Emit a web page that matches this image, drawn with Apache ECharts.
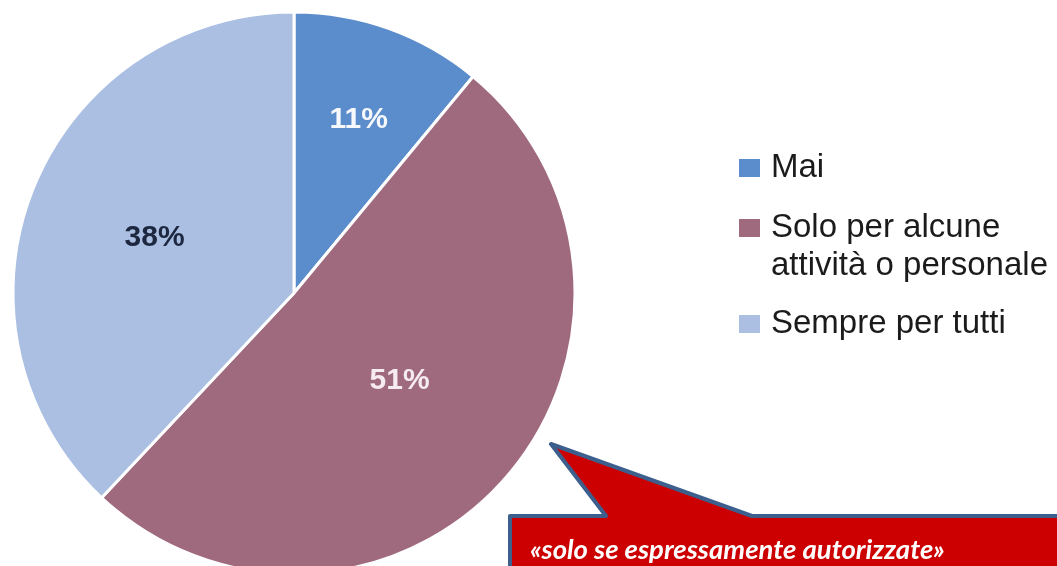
<!DOCTYPE html>
<html>
<head>
<meta charset="utf-8">
<script src="https://cdn.jsdelivr.net/npm/echarts@6/dist/echarts.min.js"></script>
<style>
  html, body { margin: 0; padding: 0; background: #ffffff; }
  #chart { width: 1057px; height: 566px; }
</style>
</head>
<body>
<div id="chart"></div>
<script>
// Answer categories and their shares (%)
const categories = ['Mai', 'Solo per alcune attività o personale', 'Sempre per tutti'];
// Legend text; the leading blank line keeps the swatch level with the first line
const legendLines = ['Mai', ' \nSolo per alcune\nattività o personale', 'Sempre per tutti'];
const shares = [11, 51, 38];
const sliceColors = ['#5b8ccb', '#a06a7e', '#aabfe2'];
const labelColors = ['#f6f8fc', '#f5ebf0', '#1e2740'];
const labelOffsets = [[16, -38], [-2, -7], [-6, -2]];

const calloutText = '«solo se espressamente autorizzate»';

const chart = echarts.init(document.getElementById('chart'), null, { renderer: 'canvas' });

const pieData = categories.map((name, i) => ({
  name: name,
  value: shares[i],
  itemStyle: { color: sliceColors[i] },
  label: { color: labelColors[i], offset: labelOffsets[i] }
}));

// One legend block per entry
const legendTops = [149, 171, 305];
const legends = categories.map((name, i) => ({
  orient: 'vertical',
  left: 737,
  top: legendTops[i],
  padding: 0,
  icon: 'rect',
  itemWidth: 23,
  itemHeight: 20,
  selectedMode: false,
  data: [name],
  formatter: () => legendLines[i],
  textStyle: {
    fontFamily: 'Liberation Sans, Arial, sans-serif',
    fontSize: 33,
    lineHeight: 38,
    color: '#1b1b1b',
    padding: [0, 0, 0, 5]
  }
}));

chart.setOption({
  animation: false,
  backgroundColor: '#ffffff',
  legend: legends,
  series: [{
    type: 'pie',
    center: [294, 293],
    radius: [0, 281],
    startAngle: 90,
    clockwise: true,
    avoidLabelOverlap: false,
    itemStyle: { borderColor: '#ffffff', borderWidth: 3 },
    label: {
      show: true,
      position: 'inside',
      formatter: '{c}%',
      fontFamily: 'Liberation Sans, Arial, sans-serif',
      fontWeight: 'bold',
      fontSize: 30
    },
    labelLine: { show: false },
    emphasis: { disabled: true },
    data: pieData
  }],
  graphic: [
    {
      type: 'polygon',
      z: 10,
      shape: {
        points: [[510, 516], [606, 516], [551, 444], [752, 516], [1075, 516], [1075, 590], [510, 590]]
      },
      style: { fill: '#cc0000', stroke: '#3c5f8e', lineWidth: 4, lineJoin: 'round' }
    },
    {
      type: 'text',
      z: 11,
      x: 530,
      y: 550,
      style: {
        text: calloutText,
        fill: '#ffffff',
        font: 'italic bold 27.5px Lato, "Open Sans", sans-serif',
        verticalAlign: 'middle',
        align: 'left'
      }
    }
  ]
});
</script>
</body>
</html>
